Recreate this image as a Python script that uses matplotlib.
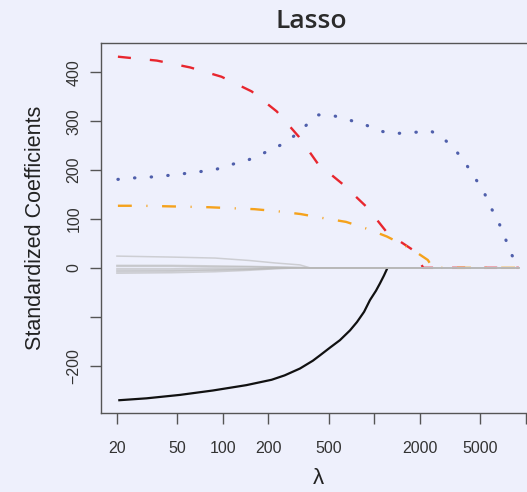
import matplotlib
matplotlib.use("Agg")
import matplotlib.pyplot as plt

# lasso paths for the Credit data, standardized coefficients vs lambda
lam_income = [20.4, 31.3, 52, 85.8, 143, 210, 256, 323, 393, 438, 511, 593, 691,
              768, 856, 936, 1025, 1089, 1157, 1222]
income = [-271, -267, -260, -251, -240, -229, -220, -206, -190, -179, -163, -148, -128,
          -111, -90, -66, -47, -32, -16, 0]

lam_limit = [20.3, 36.7, 60.9, 98, 155, 227, 318, 424, 620, 894, 1222, 1850, 2100, 9000]
limit = [432, 424, 410, 391, 361, 320, 268, 213, 171, 124, 71, 34, 0, 0]

lam_rating = [20.3, 26.1, 34.1, 43.4, 56.3, 71.5, 91.3, 116, 148, 187, 240, 296, 353,
              424, 542, 691, 882, 1125, 1413, 1802, 2364, 2878, 3450, 4015, 4594,
              5257, 5847, 6601, 7226, 7917, 8940]
rating = [181, 184, 186, 189, 193, 197, 202, 212, 221, 235, 251, 270, 291,
          313, 311, 302, 292, 279, 275, 277, 280, 264, 240, 213, 185,
          157, 125, 94, 65, 32, 0]

lam_student = [20.3, 29.2, 40.9, 58, 81, 114.5, 162, 226, 327, 455, 651, 894, 1212,
               1770, 2256, 2430, 9000]
student = [127, 127, 126, 125, 124, 122, 120, 116, 110, 102, 94, 80, 64, 38, 16, 0, 0]

# remaining predictors, all small
lam_small = [20, 46, 89, 150, 221, 323, 376, 9000]
others = {
    "Cards": [24, 22, 20, 15, 10, 6, 0, 0],
    "Asian": [5, 5, 4, 3, 2, 1, 0, 0],
    "Caucasian": [3, 3, 2, 2, 1, 0, 0, 0],
    "Education": [-2, -2, -1, -1, 0, 0, 0, 0],
    "Married": [-5, -5, -4, -3, -1, 0, 0, 0],
    "Gender": [-8, -7, -5, -3, -1, 0, 0, 0],
    "Age": [-11, -10, -8, -5, -2, 0, 0, 0],
}

xticks = [20, 50, 100, 200, 500, 1000, 2000, 5000, 10000]
xticklabels = ["20", "50", "100", "200", "500", "", "2000", "5000", ""]
yticks = [-200, -100, 0, 100, 200, 300, 400]
yticklabels = ["\u2212200", "", "0", "100", "200", "300", "400"]

bg = "#eef0fc"
plt.rcParams["lines.scale_dashes"] = False
plt.rcParams["font.family"] = ["Liberation Sans", "DejaVu Sans"]

fig = plt.figure(figsize=(5.27, 4.92), dpi=100, facecolor=bg)
ax = fig.add_axes([101 / 527, 79 / 492, 434 / 527, 370 / 492], facecolor=bg)

ax.plot(lam_income, income, color="#111111", lw=1.6, solid_capstyle="butt",
        solid_joinstyle="round", zorder=3)
ax.plot(lam_limit, limit, color="#e8262e", lw=1.7, linestyle=(0, (9.4, 13.7)),
        dash_capstyle="butt", zorder=3)
ax.plot(lam_student, student, color="#f5a21c", lw=1.7,
        linestyle=(0, (10, 10.5, 0.8, 10.5)), dash_capstyle="butt", zorder=3)
ax.plot(lam_rating, rating, color="#4f5fab", lw=2.3, linestyle=(0, (0.3, 11.7)),
        dash_capstyle="round", zorder=3)

for name, vals in others.items():
    ax.plot(lam_small, vals, color="#b8b8b8", lw=1.1, alpha=0.6, zorder=4)

ax.set_xscale("log")
ax.set_xlim(15.7, 11500)
ax.set_ylim(-297, 460)
ax.minorticks_off()

ax.set_xticks(xticks)
ax.set_xticklabels(xticklabels)
ax.set_yticks(yticks)
ax.set_yticklabels(yticklabels, rotation=90, va="center")

ax.tick_params(axis="both", direction="out", length=8, width=1, color="#555555",
               labelsize=11.5, labelcolor="#333333")
ax.tick_params(axis="x", pad=12)
ax.tick_params(axis="y", pad=6)
for side in ["left", "bottom", "top"]:
    ax.spines[side].set_color("#555555")
    ax.spines[side].set_linewidth(1)
ax.spines["right"].set_visible(False)

ax.set_ylabel("Standardized Coefficients", fontsize=15.5, color="#222222", labelpad=15)
ax.set_xlabel("\u03bb", fontsize=16, color="#222222", labelpad=9)

fig.text(311 / 527, 1 - 22 / 492, "Lasso", ha="center", va="center", fontsize=19,
         family=["Open Sans", "DejaVu Sans"], fontweight="semibold", color="#2b2b2b")

fig.savefig("out.png", dpi=100, facecolor=bg)
